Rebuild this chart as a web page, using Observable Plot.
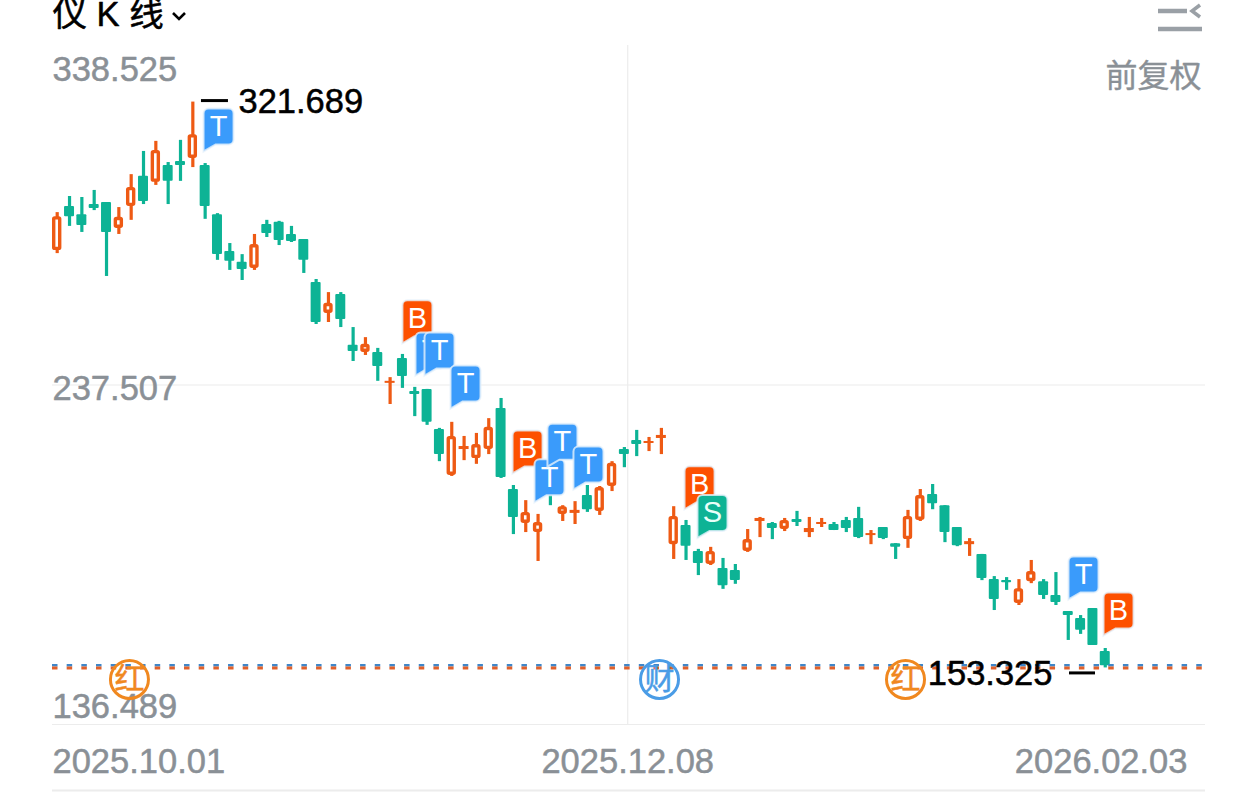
<!DOCTYPE html>
<html><head><meta charset="utf-8">
<script src="https://cdn.jsdelivr.net/npm/d3@7"></script>
<script src="https://cdn.jsdelivr.net/npm/@observablehq/plot@0.6"></script>
<style>html,body{margin:0;padding:0;background:#fff}</style>
</head><body><div id="chart"></div>
<script>
const highs=[288.8,293.6,293.3,295.4,291.8,290.3,300.1,307.0,310.0,303.7,310.3,321.689,303.4,288.5,279.6,276.3,282.3,286.5,286.2,284.7,280.8,268.9,265.0,265.0,254.6,251.6,248.4,239.7,246.6,236.8,236.2,224.6,226.4,222.2,223.1,227.5,233.5,207.6,203.1,199.0,207.3,201.6,202.8,207.6,207.3,214.7,218.9,224.0,221.9,224.6,201.3,197.2,188.6,189.2,185.9,184.1,194.5,198.1,196.6,197.8,199.9,198.1,197.8,196.6,198.1,201.1,194.2,195.1,190.3,200.2,206.4,207.9,201.6,195.1,191.8,187.1,180.5,180.2,179.6,185.3,179.6,181.7,170.1,168.9,171.0,159.1];
const lows=[276.6,284.7,282.9,289.4,269.8,282.3,286.5,291.2,296.9,291.2,298.1,302.2,286.8,274.6,271.6,268.6,271.6,281.4,279.0,279.9,270.7,255.5,256.1,254.6,244.5,246.3,238.6,231.7,236.5,228.1,225.5,214.7,210.3,215.0,213.9,216.8,209.7,193.0,193.6,185.0,201.6,196.9,196.0,199.6,198.7,205.8,212.9,216.2,217.7,216.8,185.6,185.3,180.8,183.8,176.7,178.2,187.7,192.1,191.5,193.9,195.4,192.1,195.1,194.2,193.6,191.8,190.0,191.5,185.6,188.9,196.9,200.4,190.6,189.4,186.5,179.3,170.4,176.4,171.9,178.4,173.7,171.9,161.5,163.3,160.0,153.325];
const opens=[277.5,290.6,288.2,291.2,291.8,284.1,290.6,299.6,297.8,302.8,304.0,304.9,302.8,288.2,277.2,274.0,272.2,285.3,285.9,282.3,280.8,268.0,258.8,264.4,249.3,247.2,247.2,238.0,245.4,235.6,236.2,224.3,210.6,218.3,215.6,218.3,230.5,206.4,196.3,193.6,206.1,199.0,199.3,204.6,199.9,207.3,218.3,221.0,220.1,221.6,190.0,195.7,188.0,184.1,182.9,182.3,188.0,196.9,196.3,194.5,197.5,193.6,196.0,196.0,197.2,197.8,192.7,195.1,190.3,191.5,197.2,204.9,201.6,195.1,190.0,187.1,179.6,179.3,172.5,179.0,179.0,174.9,170.1,168.0,171.0,158.2];
const closes=[287.6,287.6,285.0,290.0,282.9,287.4,296.3,292.1,307.3,298.1,302.8,312.0,290.6,276.3,274.3,271.9,279.3,282.6,280.5,280.2,274.6,256.1,261.8,257.0,247.5,249.6,243.0,238.6,240.0,234.7,226.4,216.8,222.2,219.2,219.8,224.9,210.0,198.1,199.6,196.6,204.6,201.3,200.2,200.4,207.0,214.2,216.8,219.8,220.7,222.5,198.4,189.5,184.4,188.0,177.8,179.3,191.5,197.8,194.8,197.2,196.6,194.8,196.6,194.2,194.8,192.1,193.3,191.8,189.2,198.4,204.6,202.2,193.6,189.7,190.9,179.9,173.7,178.7,176.9,182.0,174.9,172.8,168.9,164.5,160.0,154.0];

const priceTicks=[338.525,237.507,136.489];
const dateLabels=["2025.10.01","2025.12.08","2026.02.03"];
const markerLabels=["T","B","T","T","T","B","T","T","T","B","S","T","B"];
const markerIndex=[11.87,28.0,29.06,29.79,31.90,36.93,38.71,39.76,41.87,50.88,51.93,82.02,84.86];
const markerPrice=[307.0,249.9,240.3,240.3,230.5,211.2,202.6,213.2,206.4,200.5,192.0,173.7,163.0];
const badgeLabels=["红","财","红"];
const badgeIndex=[5.86,48.85,68.8];
const badgeColors=["#f0881f","#4a9ce6","#f0881f"];
const badgePrice=149.9;
const maxPrice=321.689, minPrice=153.325;
const linePriceA=154.1, linePriceB=153.3;

const UP="#ee5a14", DOWN="#0db395", GREY="#8a9096", GRID="#ececec";
const FONT='"Liberation Sans","Noto Sans CJK SC",sans-serif';
const markerColor={T:"#3a9bfb",B:"#fd5000",S:"#0db395"};

const candles=highs.map((h,i)=>({i,high:h,low:lows[i],open:opens[i],close:closes[i],up:closes[i]>=opens[i]}));
const downs=candles.filter(d=>!d.up);
const ups=candles.filter(d=>d.up);
const hollow=ups.filter(d=>d.close-d.open>=1.5), thin=ups.filter(d=>d.close-d.open<1.5);
const wick=(data,color)=>Plot.ruleX(data,{x:"i",y1:"low",y2:"high",stroke:color,strokeWidth:3.2});
const x1=d=>d.i-.405, x2=d=>d.i+.405;

const bubble={draw(c){
  c.moveTo(0,0);c.lineTo(0,-38);c.arcTo(0,-43,5,-43,5);c.lineTo(25,-43);c.arcTo(30,-43,30,-38,5);
  c.lineTo(30,-12);c.arcTo(30,-7,25,-7,5);c.lineTo(12,-7);c.closePath();
}};
const markerMarks=markerLabels.flatMap((t,k)=>{
  const row=[{x:markerIndex[k],y:markerPrice[k],t}];
  return [
    Plot.dot(row,{x:"x",y:"y",symbol:bubble,fill:markerColor[t],stroke:"#e6f1fb",strokeWidth:2,strokeOpacity:.8}),
    Plot.text(row,{x:"x",y:"y",text:"t",dx:15,dy:-25,fill:t==="S"?"#e9fff9":"#fff",fontSize:29,fontFamily:FONT})
  ];
});
const icon=d=>()=>{const p=d3.create("svg:path").attr("d",d.d).attr("fill","none").attr("stroke",d.c).attr("stroke-width",d.w);return p.node();};
const label=(fill)=>({fontSize:34.5,fill,stroke:fill,strokeWidth:.5,fontFamily:FONT});
const priceLabel=(v,dy)=>Plot.text([v],{x:()=>-0.381,y:d=>d,text:d=>d.toFixed(3),textAnchor:"start",dy,...label(GREY)});

const chart=Plot.plot({
  width:1260,height:792,marginLeft:52,marginRight:55,marginTop:45,marginBottom:68,
  x:{domain:[-0.381,93.13],axis:null},
  y:{domain:[136.489,338.525],axis:null},
  style:{background:"#fff",fontFamily:FONT},
  marks:[
    Plot.ruleY(priceTicks.slice(1),{stroke:GRID,strokeWidth:1.2}),
    Plot.ruleY([136.489],{dy:66,stroke:GRID,strokeWidth:2}),
    Plot.ruleX([46.27],{stroke:GRID,strokeWidth:1.2}),
    wick(downs,DOWN),wick(ups,UP),
    Plot.rect(downs,{x1,x2,y1:"open",y2:"close",fill:DOWN,rx:1}),
    Plot.rect(thin,{x1,x2,y1:"open",y2:"close",fill:UP}),
    Plot.rect(hollow,{x1,x2,y1:"open",y2:"close",fill:"#fff",stroke:UP,strokeWidth:3.4,inset:1.7,insetLeft:2,insetRight:2,rx:1}),
    Plot.ruleY([linePriceA],{stroke:"#3f86c8",strokeWidth:2.6,strokeDasharray:"5.5 9.17"}),
    Plot.ruleY([linePriceB],{stroke:"#e0602a",strokeWidth:2.8,strokeDasharray:"5.5 9.17"}),
    priceLabel(priceTicks[0],24),priceLabel(priceTicks[1],4),priceLabel(priceTicks[2],-18),
    ...markerMarks,
    Plot.ruleY([maxPrice],{x1:11.70,x2:13.89,stroke:"#000",strokeWidth:3,dy:-1.5}),
    Plot.text([maxPrice],{x:()=>14.70,y:d=>d,text:d=>d.toFixed(3),textAnchor:"start",...label("#000")}),
    Plot.ruleY([minPrice],{x1:82.10,x2:84.21,stroke:"#000",strokeWidth:3,dy:5}),
    Plot.text([minPrice],{x:()=>80.72,y:d=>d,text:d=>d.toFixed(3),textAnchor:"end",dy:6,...label("#000")}),
    Plot.dot(badgeLabels,{x:(d,k)=>badgeIndex[k],y:()=>badgePrice,r:19,stroke:(d,k)=>badgeColors[k],strokeWidth:3,fill:"none"}),
    Plot.text(badgeLabels,{x:(d,k)=>badgeIndex[k],y:()=>badgePrice,text:d=>d,fill:(d,k)=>badgeColors[k],stroke:(d,k)=>badgeColors[k],strokeWidth:.5,fontSize:30,fontFamily:FONT}),
    Plot.text([dateLabels[0]],{frameAnchor:"bottom-left",text:d=>d,dy:48,...label(GREY)}),
    Plot.text([dateLabels[1]],{x:()=>46.27,frameAnchor:"bottom",text:d=>d,dy:48,...label(GREY)}),
    Plot.text([dateLabels[2]],{frameAnchor:"bottom-right",text:d=>d,dx:-18,dy:48,...label(GREY)}),
    Plot.text(["仪 K 线"],{frameAnchor:"top-left",text:d=>d,dy:-44,lineAnchor:"top",...label("#000")}),
    Plot.text(["前复权"],{frameAnchor:"top-right",text:d=>d,dy:19,dx:-4,fontSize:32,fill:GREY,stroke:GREY,strokeWidth:.4,fontFamily:FONT,lineAnchor:"top"}),
    icon({d:"M173 13l6 6l6-6",c:"#000",w:2.6}),
    icon({d:"M1158 11H1187M1158 29H1202",c:"#9aa0a6",w:4.5}),
    icon({d:"M1200 5L1192 11L1200 17",c:"#9aa0a6",w:3.5})
  ]
});
document.getElementById("chart").append(chart);
</script></body></html>
